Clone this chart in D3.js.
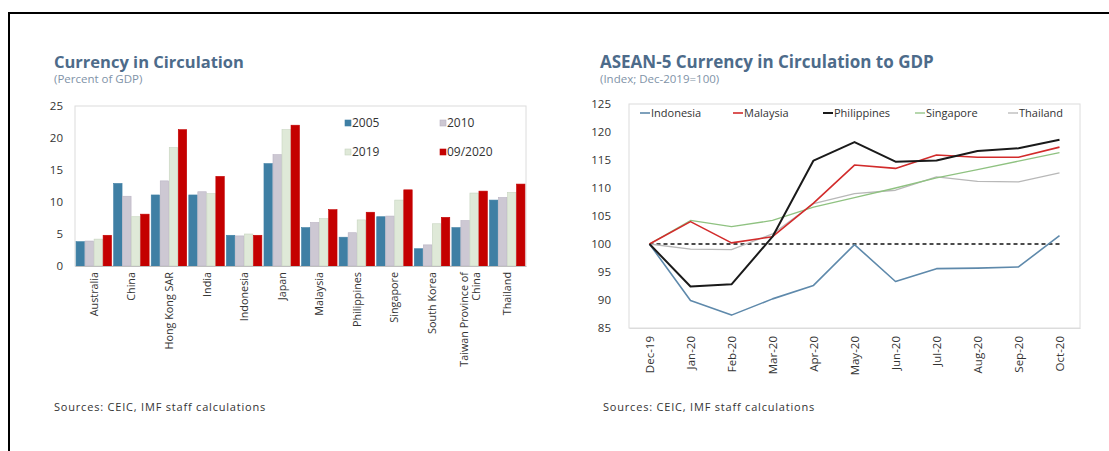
<!DOCTYPE html>
<html><head><meta charset="utf-8">
<script src="https://cdn.jsdelivr.net/npm/d3@7/dist/d3.min.js"></script>
<style>
html,body{margin:0;padding:0;background:#fff;}
svg{display:block;}
</style></head>
<body>
<svg id="c" width="1109" height="451"></svg>
<script>
// ---------- Left chart data ----------
const countries = ["Australia","China","Hong Kong SAR","India","Indonesia","Japan","Malaysia","Philippines","Singapore","South Korea","Taiwan Province of China","Thailand"];
const barSeries = ["2005","2010","2019","09/2020"];
const v2005 = [3.8,12.9,11.1,11.1,4.8,16.0,6.0,4.5,7.7,2.7,6.0,10.3];
const v2010 = [3.9,10.9,13.3,11.6,4.7,17.4,6.8,5.2,7.8,3.3,7.1,10.7];
const v2019 = [4.2,7.7,18.5,11.3,5.0,21.3,7.4,7.2,10.3,6.6,11.4,11.5];
const v2020 = [4.8,8.1,21.3,14.0,4.8,22.0,8.8,8.4,11.9,7.6,11.7,12.8];
const leftTicks = [0,5,10,15,20,25];

// ---------- Right chart data ----------
const months = ["Dec-19","Jan-20","Feb-20","Mar-20","Apr-20","May-20","Jun-20","Jul-20","Aug-20","Sep-20","Oct-20"];
const lineSeries = ["Indonesia","Malaysia","Philippines","Singapore","Thailand"];
const indonesia   = [100,89.9,87.3,90.2,92.6,99.9,93.3,95.6,95.7,95.9,101.5];
const malaysia    = [100,104.0,100.2,101.3,107.3,114.1,113.5,115.9,115.5,115.5,117.3];
const philippines = [100,92.4,92.8,101.3,114.9,118.2,114.7,114.9,116.6,117.1,118.6];
const singapore   = [100,104.2,103.1,104.2,106.6,108.3,110.0,111.8,113.3,114.8,116.3];
const thailand    = [100,99.1,99.0,101.8,107.2,109.0,109.6,112.0,111.2,111.1,112.7];
const rightTicks = [85,90,95,100,105,110,115,120,125];

const svg = d3.select("#c");
const FONT = "'Open Sans', 'Noto Sans', sans-serif";
const titleColor = "#4d6b8a";
const subColor = "#7f93a8";

// frame
svg.append("path").attr("d","M9,451 L9,13 L1109,13").attr("fill","none").attr("stroke","#000").attr("stroke-width",2);

// ================= LEFT =================
{
  const L = {x0:75, x1:526, y0:106, y1:266};
  svg.append("text").attr("x",54).attr("y",68).text("Currency in Circulation")
    .attr("font-family",FONT).attr("font-weight","bold").attr("font-size",16.5).attr("fill",titleColor);
  svg.append("text").attr("x",54).attr("y",83).text("(Percent of GDP)")
    .attr("font-family",FONT).attr("font-size",11.5).attr("fill",subColor);

  svg.append("rect").attr("x",L.x0).attr("y",L.y0).attr("width",L.x1-L.x0).attr("height",L.y1-L.y0)
    .attr("fill","none").attr("stroke","#dcdcdc").attr("stroke-width",1);

  const y = d3.scaleLinear().domain([0,25]).range([L.y1,L.y0]);
  const x0 = d3.scaleBand().domain(countries).range([L.x0,L.x1]).paddingInner(0.04).paddingOuter(0.02);
  const x1 = d3.scaleBand().domain(barSeries).range([0,x0.bandwidth()]).padding(0);
  const vals = [v2005,v2010,v2019,v2020];
  const fills = ["#3f7fa4","#cdc8d3","#dfe9d8","#c40000"];
  const strokes = ["#3f7fa4","#b9b3c2","#c6d4bf","#c40000"];

  const g = svg.append("g");
  barSeries.forEach((s,si)=>{
    g.selectAll(null).data(countries).enter().append("rect")
      .attr("x",d=>x0(d)+x1(s)+0.3)
      .attr("width",x1.bandwidth()-0.6)
      .attr("y",(d,i)=>y(vals[si][i]))
      .attr("height",(d,i)=>y(0)-y(vals[si][i]))
      .attr("fill",fills[si]).attr("stroke",strokes[si]).attr("stroke-width",0.6);
  });

  const ya = svg.append("g").attr("transform",`translate(${L.x0},0)`)
    .call(d3.axisLeft(y).tickValues(leftTicks).tickSize(0).tickPadding(12));
  ya.select(".domain").remove();
  ya.selectAll("text").attr("font-family",FONT).attr("font-size",11.5).attr("fill","#333");

  const xa = svg.append("g").attr("transform",`translate(0,${L.y1})`)
    .call(d3.axisBottom(x0).tickSize(0).tickFormat(""));
  xa.select(".domain").attr("stroke","#bfbfbf");
  const labG = svg.append("g");
  countries.forEach(c=>{
    const cx = x0(c)+x0.bandwidth()/2;
    const lines = c==="Taiwan Province of China" ? ["Taiwan Province of","China"] : [c];
    const t = labG.append("text").attr("transform",`translate(${cx},${L.y1+6}) rotate(-90)`)
      .attr("text-anchor","end").attr("font-family",FONT).attr("font-size",10.8).attr("fill","#333");
    lines.forEach((ln,i)=>{
      t.append("tspan").attr("x",0).attr("dy", i===0 ? (lines.length>1 ? -2 : 4) : 12).text(ln);
    });
  });

  const leg = svg.append("g").attr("font-family",FONT).attr("font-size",12).attr("fill","#333");
  const lpos = [[345,125],[440,125],[345,154],[440,154]];
  barSeries.forEach((s,i)=>{
    leg.append("rect").attr("x",lpos[i][0]).attr("y",lpos[i][1]-5).attr("width",6).attr("height",6)
      .attr("fill",fills[i]).attr("stroke",strokes[i]).attr("stroke-width",0.6);
    leg.append("text").attr("x",lpos[i][0]+7).attr("y",lpos[i][1]+2).text(s);
  });

  svg.append("text").attr("x",54).attr("y",411).text("Sources: CEIC, IMF staff calculations")
    .attr("font-family",FONT).attr("font-size",11).attr("letter-spacing",0.8).attr("fill","#333");
}

// ================= RIGHT =================
{
  const R = {x0:629, x1:1080, y0:104, y1:328};
  svg.append("text").attr("x",600).attr("y",68).text("ASEAN-5 Currency in Circulation to GDP")
    .attr("font-family",FONT).attr("font-weight","bold").attr("font-size",17).attr("fill",titleColor);
  svg.append("text").attr("x",600).attr("y",83).text("(Index; Dec-2019=100)")
    .attr("font-family",FONT).attr("font-size",11.5).attr("fill",subColor);

  svg.append("rect").attr("x",R.x0).attr("y",R.y0).attr("width",R.x1-R.x0).attr("height",R.y1-R.y0)
    .attr("fill","none").attr("stroke","#dcdcdc").attr("stroke-width",1);

  const y = d3.scaleLinear().domain([85,125]).range([R.y1,R.y0]);
  const x = d3.scalePoint().domain(months).range([R.x0,R.x1]).padding(0.5);

  const ya = svg.append("g").attr("transform",`translate(${R.x0},0)`)
    .call(d3.axisLeft(y).tickValues(rightTicks).tickSize(0).tickPadding(18));
  ya.select(".domain").remove();
  ya.selectAll("text").attr("font-family",FONT).attr("font-size",11.5).attr("fill","#333");

  const xa = svg.append("g").attr("transform",`translate(0,${R.y1})`)
    .call(d3.axisBottom(x).tickSize(0).tickPadding(8));
  xa.select(".domain").attr("stroke","#dcdcdc");
  xa.selectAll("text").attr("font-family",FONT).attr("font-size",11.5).attr("fill","#333")
    .attr("text-anchor","end").attr("transform","rotate(-90)").attr("x",-8).attr("y",0).attr("dy","0.35em");

  svg.append("line").attr("x1",x(months[0])).attr("x2",x(months[months.length-1]))
    .attr("y1",y(100)).attr("y2",y(100)).attr("stroke","#111").attr("stroke-width",1.4).attr("stroke-dasharray","4,3");

  const data = [indonesia,malaysia,philippines,singapore,thailand];
  const colors = ["#5e89ab","#d22b2b","#1a1a1a","#8fc281","#b8b8b8"];
  const widths = [1.6,1.6,2,1.3,1.3];
  const line = d3.line().x((d,i)=>x(months[i])).y(d=>y(d));
  [4,3,0,1,2].forEach(i=>{
    svg.append("path").datum(data[i]).attr("d",line).attr("fill","none")
      .attr("stroke",colors[i]).attr("stroke-width",widths[i]).attr("stroke-linejoin","round");
  });

  const lx = [640,733,823,915,1008];
  const leg = svg.append("g").attr("font-family",FONT).attr("font-size",11).attr("fill","#333");
  lineSeries.forEach((s,i)=>{
    leg.append("line").attr("x1",lx[i]).attr("x2",lx[i]+10).attr("y1",113).attr("y2",113)
      .attr("stroke",colors[i]).attr("stroke-width",widths[i]);
    leg.append("text").attr("x",lx[i]+11).attr("y",117).text(s);
  });

  svg.append("text").attr("x",603).attr("y",411).text("Sources: CEIC, IMF staff calculations")
    .attr("font-family",FONT).attr("font-size",11).attr("letter-spacing",0.8).attr("fill","#333");
}
</script>
</body></html>
